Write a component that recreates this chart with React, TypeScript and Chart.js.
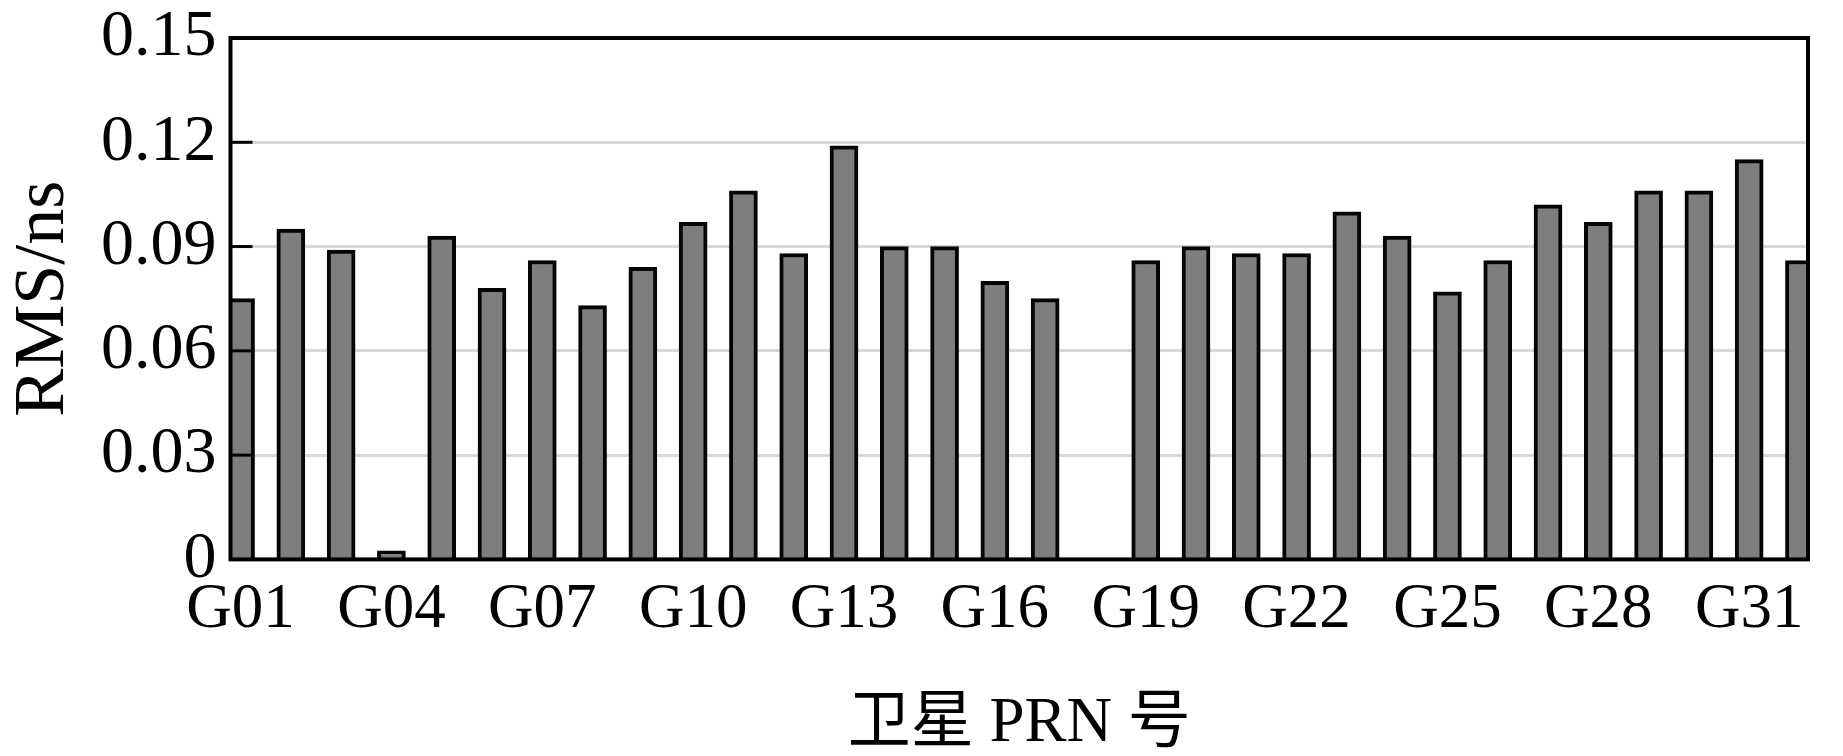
import React, { useEffect, useRef } from 'react';
import { Chart, registerables } from 'chart.js';

Chart.register(...registerables);

const satellites = [
  'G01', 'G02', 'G03', 'G04', 'G05', 'G06', 'G07', 'G08',
  'G09', 'G10', 'G11', 'G12', 'G13', 'G14', 'G15', 'G16',
  'G17', 'G18', 'G19', 'G20', 'G21', 'G22', 'G23', 'G24',
  'G25', 'G26', 'G27', 'G28', 'G29', 'G30', 'G31', 'G32',
];

const rmsValues = [
  0.075, 0.095, 0.089, 0.0025, 0.093, 0.078, 0.086, 0.073,
  0.084, 0.097, 0.106, 0.088, 0.119, 0.090, 0.090, 0.080,
  0.075, 0, 0.086, 0.090, 0.088, 0.088, 0.100, 0.093,
  0.077, 0.086, 0.102, 0.097, 0.106, 0.106, 0.115, 0.086,
];

const xTickSatellites = ['G01', 'G04', 'G07', 'G10', 'G13', 'G16', 'G19', 'G22', 'G25', 'G28', 'G31'];
const yTickValues = [0, 0.03, 0.06, 0.09, 0.12, 0.15];
const yTickLabels = ['0', '0.03', '0.06', '0.09', '0.12', '0.15'];

const xAxisTitle = '卫星 PRN 号';
const yAxisTitle = 'RMS/ns';

const serif = "'Liberation Serif', 'Times New Roman', 'Noto Sans CJK SC', serif";

const framePlugin = {
  id: 'frame',
  afterDatasetsDraw(chart: any) {
    const { ctx, chartArea: a, scales } = chart;
    ctx.save();
    ctx.strokeStyle = '#000';
    ctx.lineWidth = 3;
    yTickValues.forEach((v) => {
      if (v > yTickValues[0] && v < yTickValues[yTickValues.length - 1]) {
        const y = scales.y.getPixelForValue(v);
        ctx.beginPath();
        ctx.moveTo(a.left, y);
        ctx.lineTo(a.left + 22, y);
        ctx.stroke();
      }
    });
    ctx.lineWidth = 4;
    ctx.strokeRect(a.left, a.top, a.right - a.left, a.bottom - a.top);
    ctx.restore();
  },
};

export default function App() {
  const canvasRef = useRef<HTMLCanvasElement | null>(null);

  useEffect(() => {
    if (!canvasRef.current) return;
    const data = satellites.map((s, i) => ({ x: i + 1, y: rmsValues[i] }));
    const chart = new Chart(canvasRef.current, {
      type: 'bar',
      data: {
        datasets: [
          {
            data,
            backgroundColor: '#7e7e7e',
            borderColor: '#050505',
            borderWidth: 4,
            barThickness: 28,
            clip: 0,
          } as any,
        ],
      },
      plugins: [framePlugin],
      options: {
        responsive: false,
        animation: false,
        layout: { padding: { left: 0, right: 35, top: 0, bottom: 0 } },
        plugins: {
          legend: { display: false },
          tooltip: { enabled: false },
        },
        scales: {
          x: {
            type: 'linear',
            offset: false,
            min: 0.8,
            max: 32.17,
            afterBuildTicks: (scale: any) => {
              scale.ticks = xTickSatellites.map((s) => ({ value: satellites.indexOf(s) + 1 }));
            },
            ticks: {
              autoSkip: false,
              maxRotation: 0,
              padding: 13,
              color: '#000',
              font: { family: serif, size: 63 },
              callback: (value: any) => satellites[Number(value) - 1],
            },
            grid: { display: false, drawTicks: false },
            border: { display: false },
            title: {
              display: true,
              text: xAxisTitle,
              color: '#000',
              font: { family: serif, size: 63, lineHeight: 1.0 },
              padding: { top: 32, bottom: 0 },
            },
          },
          y: {
            type: 'linear',
            min: 0,
            max: 0.15,
            afterBuildTicks: (scale: any) => {
              scale.ticks = yTickValues.map((v) => ({ value: v }));
            },
            ticks: {
              padding: 14,
              color: '#000',
              font: { family: serif, size: 66, lineHeight: 0.727 },
              callback: (value: any, index: number) => yTickLabels[index],
            },
            grid: { color: '#d9d9d9', lineWidth: 3, drawTicks: false },
            border: { display: false },
            title: {
              display: true,
              text: yAxisTitle,
              color: '#000',
              font: { family: serif, size: 72, lineHeight: 1.0 },
              padding: { top: 8, bottom: 7 },
            },
          },
        },
      },
    });
    return () => chart.destroy();
  }, []);

  return (
    <div style={{ position: 'absolute', left: 0, top: 0, width: 1843, height: 756, background: '#fff' }}>
      <canvas ref={canvasRef} width={1843} height={756} style={{ display: 'block' }} />
    </div>
  );
}
